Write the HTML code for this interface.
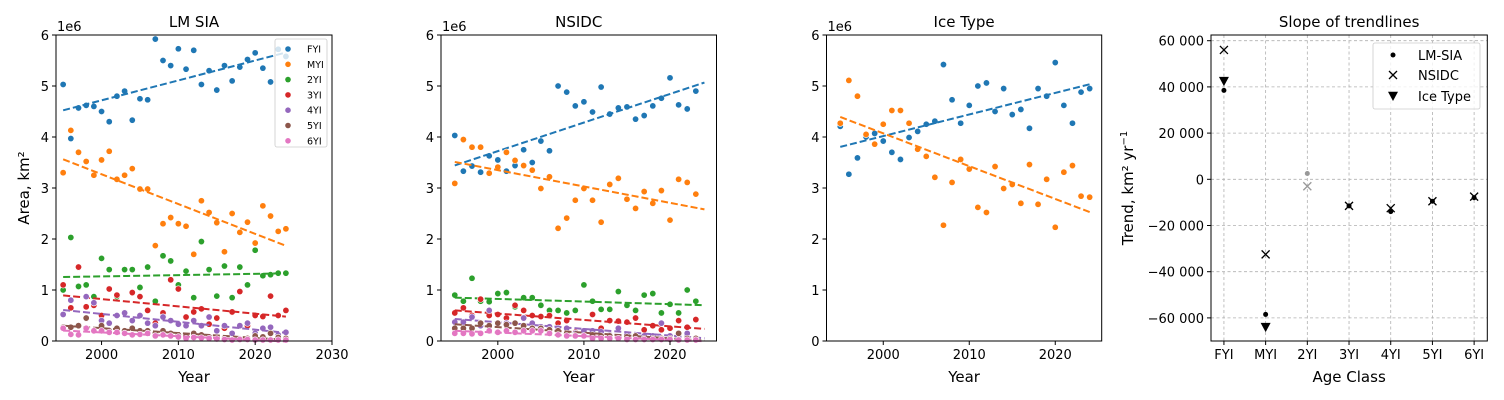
<!DOCTYPE html>
<html><head><meta charset="utf-8"><style>
html,body{margin:0;padding:0;background:#fff;}
svg{display:block;font-family:"DejaVu Sans","Liberation Sans",sans-serif;}
</style></head><body>
<svg id="chart" width="1504" height="400" viewBox="0 0 1504 400" xmlns="http://www.w3.org/2000/svg"></svg>
<script>
const years = [1995,1996,1997,1998,1999,2000,2001,2002,2003,2004,2005,2006,2007,2008,2009,2010,2011,2012,2013,2014,2015,2016,2017,2018,2019,2020,2021,2022,2023,2024];
const ageClasses = ["FYI","MYI","2YI","3YI","4YI","5YI","6YI"];
const colors = ["#1f77b4","#ff7f0e","#2ca02c","#d62728","#9467bd","#8c564b","#e377c2"];
// LM SIA (1e6 km2)
const lmFYI = [5.03,3.97,4.57,4.62,4.6,4.5,4.3,4.8,4.9,4.33,4.75,4.73,5.92,5.5,5.4,5.73,5.33,5.7,5.03,5.3,4.92,5.4,5.1,5.37,5.52,5.65,5.35,5.08,5.72,5.58];
const lmMYI = [3.3,4.13,3.7,3.52,3.25,3.55,3.72,3.17,3.25,3.38,2.98,2.98,1.87,2.3,2.42,2.3,2.25,1.7,2.75,2.52,2.32,1.75,2.5,2.13,2.33,1.92,2.65,2.45,2.15,2.2];
const lm2YI = [1.0,2.03,1.07,1.1,0.87,1.62,1.4,0.87,1.4,1.4,1.05,1.45,0.78,1.67,1.57,1.1,1.37,0.85,1.95,1.4,0.88,1.47,0.85,1.45,1.1,1.78,1.28,1.3,1.33,1.33];
const lm3YI = [1.1,0.65,1.45,0.67,0.7,0.5,1.02,0.9,0.55,0.95,0.87,0.6,0.35,0.55,1.2,1.02,0.47,0.57,0.63,0.33,0.45,0.25,0.57,0.97,0.3,0.5,0.48,0.88,0.5,0.6];
const lm4YI = [0.52,0.8,0.3,0.87,0.75,0.4,0.35,0.5,0.55,0.4,0.5,0.35,0.3,0.47,0.4,0.33,0.3,0.4,0.3,0.47,0.2,0.3,0.15,0.3,0.35,0.15,0.25,0.27,0.12,0.17];
const lm5YI = [0.27,0.27,0.3,0.45,0.2,0.3,0.2,0.25,0.2,0.25,0.2,0.2,0.15,0.2,0.15,0.12,0.1,0.15,0.12,0.08,0.05,0.05,0.03,0.04,0.05,0.1,0.08,0.15,0.07,0.05];
const lm6YI = [0.25,0.13,0.12,0.25,0.2,0.2,0.17,0.17,0.15,0.12,0.13,0.15,0.1,0.12,0.1,0.08,0.05,0.07,0.06,0.05,0.04,0.03,0.02,0.03,0.03,0.02,0.02,0.02,0.02,0.02];
// NSIDC
const nsFYI = [4.03,3.33,3.43,3.31,3.63,3.55,3.33,3.44,3.75,3.5,3.92,3.73,5.0,4.88,4.61,4.69,4.49,4.98,4.45,4.57,4.59,4.35,4.42,4.61,4.76,5.16,4.63,4.55,4.9];
const nsMYI = [3.09,3.95,3.8,3.8,3.29,3.41,3.7,3.54,3.44,3.35,2.99,3.22,2.21,2.41,2.76,2.99,2.76,2.33,3.07,3.19,2.78,2.6,2.93,2.7,2.95,2.37,3.17,3.11,2.88];
const ns2YI = [0.9,0.78,1.23,0.78,0.77,0.93,0.95,0.67,0.85,0.85,0.7,0.6,0.6,0.55,0.6,1.1,0.78,0.62,0.62,0.97,0.7,0.6,0.9,0.93,0.55,0.72,0.55,1.0,0.78];
const ns3YI = [0.55,0.65,0.5,0.82,0.5,0.52,0.45,0.7,0.6,0.5,0.48,0.5,0.35,0.4,0.17,0.18,0.52,0.25,0.4,0.39,0.37,0.45,0.22,0.3,0.22,0.25,0.4,0.27,0.42];
const ns4YI = [0.37,0.37,0.47,0.3,0.6,0.35,0.35,0.35,0.45,0.35,0.28,0.28,0.25,0.25,0.15,0.2,0.2,0.18,0.12,0.25,0.12,0.08,0.1,0.1,0.35,0.1,0.08,0.15,0.05];
const ns5YI = [0.25,0.25,0.25,0.35,0.3,0.35,0.32,0.35,0.3,0.25,0.25,0.22,0.2,0.15,0.12,0.1,0.12,0.1,0.1,0.08,0.08,0.1,0.05,0.05,0.05,0.05,0.15,0.05,0.05];
const ns6YI = [0.15,0.15,0.14,0.15,0.2,0.17,0.2,0.17,0.2,0.2,0.2,0.15,0.12,0.1,0.1,0.1,0.05,0.05,0.05,0.05,0.03,0.03,0.03,0.03,0.03,0.03,0.02,0.02,0.02];
// Ice Type
const itFYI = [4.21,3.27,3.59,4.0,4.07,3.92,3.7,3.56,3.99,4.11,4.25,4.31,5.42,4.73,4.27,4.62,5.0,5.06,4.5,4.95,4.44,4.54,4.17,4.95,4.8,5.46,4.62,4.27,4.88,4.95];
const itMYI = [4.27,5.11,4.8,4.05,3.86,4.25,4.52,4.52,4.27,3.76,3.62,3.21,2.27,3.11,3.56,3.37,2.62,2.52,3.42,2.99,3.07,2.7,3.46,2.68,3.17,2.23,3.31,3.44,2.84,2.82];
// Slopes (km2/yr)
const slopeLM = [38500,-58500,2500,-11500,-14000,-9500,-8000];
const slopeNS = [56000,-32500,-3000,-11500,-12500,-9500,-7500];
const slopeIT = [42500,-64000];
const areaTicks = [0,1,2,3,4,5,6];
const trendTicks = [60000,40000,20000,0,-20000,-40000,-60000];
const trendTickLabels = ["60 000","40 000","20 000","0","\u221220 000","\u221240 000","\u221260 000"];

const NS="http://www.w3.org/2000/svg";
const svg=document.getElementById('chart');
function el(tag,attrs,parent,text){const e=document.createElementNS(NS,tag);for(const k in attrs)e.setAttribute(k,attrs[k]);if(text!==undefined)e.textContent=text;(parent||svg).appendChild(e);return e;}
const TOP=35,BOT=341;

function fit(xs,ys){const n=ys.length;let sx=0,sy=0,sxx=0,sxy=0;for(let i=0;i<n;i++){sx+=xs[i];sy+=ys[i];sxx+=xs[i]*xs[i];sxy+=xs[i]*ys[i];}const b=(n*sxy-sx*sy)/(n*sxx-sx*sx);return [b,(sy-b*sx)/n];}

function panel(name,title,left,right,x0,x1,xticks,series,yrs,lineEnd){
  const g=el('g',{},svg);
  
  
  const sx=v=>left+(v-x0)/(x1-x0)*(right-left);
  const sy=v=>BOT-v/6*(BOT-TOP);
  series.forEach((s)=>{
    const ys=s.vals; const xs=yrs.slice(0,ys.length);
    xs.forEach((yr,i)=>{
      const c=el('circle',{cx:sx(yr),cy:sy(ys[i]),r:3.2,fill:colors[s.c],stroke:'#fff','stroke-width':0.6},g);
      
      
    });
    const [b,a]=fit(xs,ys);
    const xe=lineEnd;
    const l=el('line',{x1:sx(1995),y1:sy(a+b*1995),x2:sx(xe),y2:sy(a+b*xe),stroke:colors[s.c],'stroke-width':2,'stroke-dasharray':'7,3'},g);
    
    
  });
  const fr=el('rect',{x:left,y:TOP,width:right-left,height:BOT-TOP,fill:'none',stroke:'#000','stroke-width':1},g);
  
  
  xticks.forEach(t=>{
    el('line',{x1:sx(t),y1:BOT,x2:sx(t),y2:BOT+4,stroke:'#000'},g);
    const tl=el('text',{x:sx(t),y:BOT+18,'font-size':13,'text-anchor':'middle'},g,String(t));
    
    
  });
  areaTicks.forEach(t=>{
    el('line',{x1:left-4,y1:sy(t),x2:left,y2:sy(t),stroke:'#000'},g);
    const tl=el('text',{x:left-7,y:sy(t)+5,'font-size':13,'text-anchor':'end'},g,String(t));
    
    
  });
  const e6=el('text',{x:left+1,y:31,'font-size':13},g,'1e6');
  
  
  const tt=el('text',{x:(left+right)/2,y:27,'font-size':15,'text-anchor':'middle'},g,title);
  
  
  const xl=el('text',{x:(left+right)/2,y:382,'font-size':15,'text-anchor':'middle'},g,'Year');
  
  
  return g;
}
const all7=(a)=>a.map((v,i)=>({vals:v,c:i}));
panel('lm-sia','LM SIA',56,332,1994.07,2030,[2000,2010,2020,2030],all7([lmFYI,lmMYI,lm2YI,lm3YI,lm4YI,lm5YI,lm6YI]),years,2024);
panel('nsidc','NSIDC',441,716.5,1993.4,2025.4,[2000,2010,2020],all7([nsFYI,nsMYI,ns2YI,ns3YI,ns4YI,ns5YI,ns6YI]),years,2024);
panel('ice-type','Ice Type',826.5,1101.7,1993.4,2025.4,[2000,2010,2020],[{vals:itFYI,c:0},{vals:itMYI,c:1}],years,2024);

const yl=el('text',{x:0,y:0,'font-size':15,'text-anchor':'middle',transform:'translate(29,188) rotate(-90)'});
yl.textContent='Area, km²';



const lg=el('g',{});


el('rect',{x:275,y:39,width:52,height:108,rx:2,fill:'#fff','fill-opacity':0.8,stroke:'#ccc','stroke-width':0.8},lg);
ageClasses.forEach((n,i)=>{
  const y=49+i*15.3;
  const m=el('circle',{cx:288,cy:y,r:2.8,fill:colors[i]},lg);
  
  
  const t=el('text',{x:307,y:y+3.5,'font-size':9.5},lg,n);
  
  
});

const L4=1211,R4=1487.3;
const sx4=i=>L4+(i+0.31)*41.7;
const sy4=v=>179.3-v*(138.6/60000);
const g4=el('g',{});


ageClasses.forEach((c,i)=>{
  el('line',{x1:sx4(i),y1:TOP,x2:sx4(i),y2:BOT,stroke:'#b0b0b0','stroke-width':0.8,'stroke-dasharray':'3,2.5'},g4);
  el('line',{x1:sx4(i),y1:BOT,x2:sx4(i),y2:BOT+4,stroke:'#000'},g4);
  const t=el('text',{x:sx4(i),y:BOT+18,'font-size':13,'text-anchor':'middle'},g4,c);
  
  
});
trendTicks.forEach((v,i)=>{
  el('line',{x1:L4,y1:sy4(v),x2:R4,y2:sy4(v),stroke:'#b0b0b0','stroke-width':0.8,'stroke-dasharray':'3,2.5'},g4);
  el('line',{x1:L4-4,y1:sy4(v),x2:L4,y2:sy4(v),stroke:'#000'},g4);
  const t=el('text',{x:L4-7,y:sy4(v)+5,'font-size':13,'text-anchor':'end'},g4,trendTickLabels[i]);
  
  
});
function mcol(i){return i===2?'#999':'#000';}
function xmark(x,y,s,col,parent){return el('path',{d:`M${x-s},${y-s}L${x+s},${y+s}M${x-s},${y+s}L${x+s},${y-s}`,stroke:col,'stroke-width':1.3,fill:'none'},parent);}
function tri(x,y,s,col,parent){return el('path',{d:`M${x-s},${y-s*0.85}L${x+s},${y-s*0.85}L${x},${y+s}Z`,fill:col},parent);}
slopeIT.forEach((v,i)=>{
  const m=tri(sx4(i),sy4(v),5,mcol(i),g4);
  
  
});
slopeNS.forEach((v,i)=>{
  const m=xmark(sx4(i),sy4(v),4,mcol(i),g4);
  
  
});
slopeLM.forEach((v,i)=>{
  const m=el('circle',{cx:sx4(i),cy:sy4(v),r:2.5,fill:mcol(i)},g4);
  
  
});
const fr4=el('rect',{x:L4,y:TOP,width:R4-L4,height:BOT-TOP,fill:'none',stroke:'#000'},g4);


const t4=el('text',{x:(L4+R4)/2,y:27,'font-size':15,'text-anchor':'middle'},g4,'Slope of trendlines');


const x4=el('text',{x:(L4+R4)/2,y:382,'font-size':15,'text-anchor':'middle'},g4,'Age Class');


const y4=el('text',{x:0,y:0,'font-size':15,'text-anchor':'middle',transform:'translate(1133,188) rotate(-90)'},g4);
y4.innerHTML='Trend, km² yr<tspan dy="-6" font-size="10">−1</tspan>';


const lg4=el('g',{});


el('rect',{x:1373,y:43,width:107,height:66,rx:2,fill:'#fff','fill-opacity':0.8,stroke:'#ccc','stroke-width':0.8},lg4);
const le1=el('circle',{cx:1393,cy:55,r:2.5,fill:'#000'},lg4);


const le2=xmark(1393,75,4,'#000',lg4);


const le3=tri(1393,96,5,'#000',lg4);


[['LM-SIA',55],['NSIDC',75],['Ice Type',96]].forEach(([n,y])=>{
  const t=el('text',{x:1418,y:y+5,'font-size':13},lg4,n);
  
  
});
</script>
</body></html>
